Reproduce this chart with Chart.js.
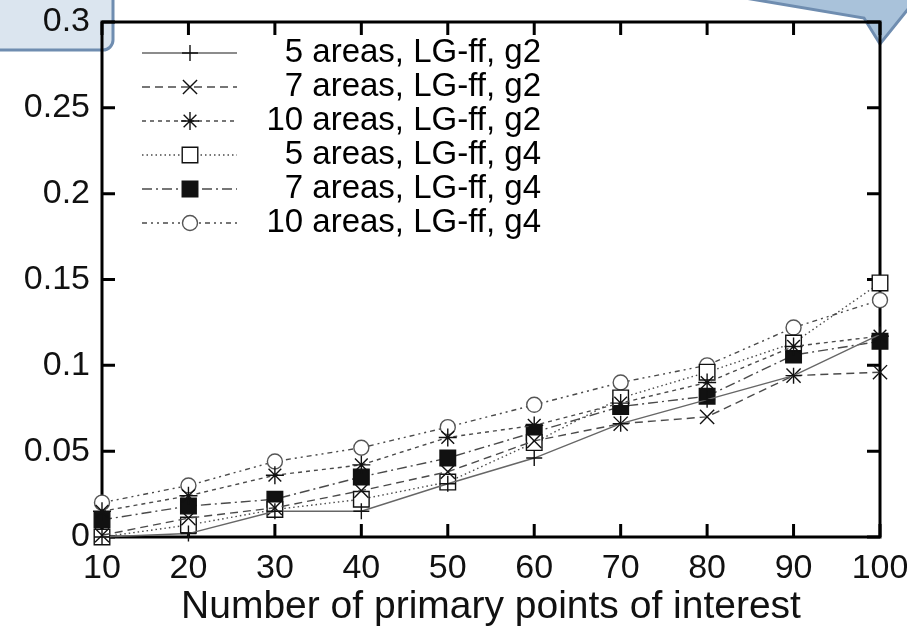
<!DOCTYPE html>
<html>
<head>
<meta charset="utf-8">
<script src="https://cdn.jsdelivr.net/npm/chart.js@4.4.0/dist/chart.umd.min.js"></script>
<style>
  html, body { margin: 0; padding: 0; background: #fff; }
  canvas { display: block; }
</style>
</head>
<body>
<canvas id="chart" width="907" height="637"></canvas>
<script>
// --- Data ---
const poiCounts = [10, 20, 30, 40, 50, 60, 70, 80, 90, 100];
const yTickValues = [0, 0.05, 0.1, 0.15, 0.2, 0.25, 0.3];
const yTickLabels = ['0', '0.05', '0.1', '0.15', '0.2', '0.25', '0.3'];
const seriesLabels = [
  '5 areas, LG-ff, g2', '7 areas, LG-ff, g2', '10 areas, LG-ff, g2',
  '5 areas, LG-ff, g4', '7 areas, LG-ff, g4', '10 areas, LG-ff, g4'
];
const areas5g2  = [0.000, 0.002, 0.015, 0.015, 0.031, 0.046, 0.066, 0.080, 0.094, 0.118];
const areas7g2  = [0.001, 0.011, 0.017, 0.027, 0.038, 0.056, 0.066, 0.070, 0.094, 0.096];
const areas10g2 = [0.015, 0.024, 0.036, 0.042, 0.058, 0.065, 0.078, 0.090, 0.111, 0.117];
const areas5g4  = [0.000, 0.007, 0.016, 0.022, 0.032, 0.055, 0.081, 0.096, 0.113, 0.148];
const areas7g4  = [0.010, 0.018, 0.022, 0.035, 0.046, 0.061, 0.076, 0.082, 0.106, 0.114];
const areas10g4 = [0.020, 0.030, 0.044, 0.052, 0.064, 0.077, 0.090, 0.100, 0.122, 0.138];

const FONT = '"Liberation Sans", Arial, Helvetica, sans-serif';
const LINE_COLOR = '#4a4a4a';

function makeSet(label, values, style) {
  return Object.assign({
    label: label,
    data: values.map((v, i) => ({ x: poiCounts[i], y: v })),
    borderColor: LINE_COLOR,
    borderWidth: 1.4,
    pointBorderColor: '#111',
    pointBackgroundColor: '#111',
    pointBorderWidth: 1.4,
    tension: 0,
    fill: false,
    clip: false
  }, style);
}

const datasets = [
  makeSet(seriesLabels[0], areas5g2,  { borderDash: [], pointStyle: 'cross', pointRadius: 8, borderColor: '#666' }),
  makeSet(seriesLabels[1], areas7g2,  { borderDash: [8, 5], pointStyle: 'crossRot', pointRadius: 10 }),
  makeSet(seriesLabels[2], areas10g2, { borderDash: [4, 4], pointStyle: 'star', pointRadius: 9 }),
  makeSet(seriesLabels[3], areas5g4,  { borderDash: [1.5, 3], pointStyle: 'rect', pointRadius: 11, pointBackgroundColor: '#fff' }),
  makeSet(seriesLabels[4], areas7g4,  { borderDash: [10, 4, 2, 4], pointStyle: 'rect', pointRadius: 11 }),
  makeSet(seriesLabels[5], areas10g4, { borderDash: [5, 4, 2, 4, 2, 4], pointStyle: 'circle', pointRadius: 7.5, pointBackgroundColor: '#fff', pointBorderColor: '#555' })
];

// --- Decorations behind the chart (the two blue callouts) ---
const overlayPlugin = {
  id: 'overlays',
  beforeDraw(chart) {
    const ctx = chart.ctx;
    ctx.save();
    // top-left rounded box around the 0.3 label
    ctx.fillStyle = '#dbe5ef';
    ctx.strokeStyle = '#6f8db0';
    ctx.lineWidth = 3;
    ctx.beginPath();
    ctx.roundRect(-10, -12, 123, 62, 10);
    ctx.fill();
    ctx.stroke();
    // top-right callout tail
    ctx.fillStyle = '#a9c2da';
    ctx.beginPath();
    ctx.moveTo(745, -2);
    ctx.lineTo(864, 18);
    ctx.lineTo(880, 44);
    ctx.lineTo(909, 8);
    ctx.lineTo(909, -2);
    ctx.closePath();
    ctx.fill();
    ctx.stroke();
    ctx.restore();
  }
};

// --- Frame and inward ticks, gnuplot style ---
const framePlugin = {
  id: 'frame',
  beforeDatasetsDraw(chart) {
    const { ctx, chartArea: a, scales } = chart;
    const len = 13;
    ctx.save();
    ctx.strokeStyle = '#000';
    ctx.lineWidth = 3;
    ctx.strokeRect(a.left, a.top, a.right - a.left, a.bottom - a.top);
    ctx.beginPath();
    poiCounts.forEach(v => {
      const x = scales.x.getPixelForValue(v);
      ctx.moveTo(x, a.bottom); ctx.lineTo(x, a.bottom - len);
      ctx.moveTo(x, a.top); ctx.lineTo(x, a.top + len);
    });
    yTickValues.forEach(v => {
      const y = scales.y.getPixelForValue(v);
      ctx.moveTo(a.left, y); ctx.lineTo(a.left + len, y);
      ctx.moveTo(a.right, y); ctx.lineTo(a.right - len, y);
    });
    ctx.stroke();
    ctx.restore();
  }
};

// --- Legend inside the plot, sample line on the left, text right aligned ---
const legendPlugin = {
  id: 'insideLegend',
  afterDraw(chart) {
    const ctx = chart.ctx;
    ctx.save();
    chart.data.datasets.forEach((ds, i) => {
      const y = 53 + i * 34;
      ctx.strokeStyle = ds.borderColor;
      ctx.lineWidth = ds.borderWidth;
      ctx.setLineDash(ds.borderDash || []);
      ctx.beginPath();
      ctx.moveTo(142, y);
      ctx.lineTo(237, y);
      ctx.stroke();
      ctx.setLineDash([]);
      ctx.strokeStyle = ds.pointBorderColor;
      ctx.fillStyle = ds.pointBackgroundColor;
      ctx.lineWidth = ds.pointBorderWidth;
      Chart.helpers.drawPoint(ctx, { pointStyle: ds.pointStyle, radius: ds.pointRadius, borderWidth: ds.pointBorderWidth, rotation: 0 }, 190, y);
      ctx.fillStyle = '#000';
      ctx.font = '33px ' + FONT;
      ctx.textAlign = 'right';
      ctx.textBaseline = 'middle';
      ctx.fillText(ds.label, 541, y);
    });
    ctx.restore();
  }
};

new Chart(document.getElementById('chart'), {
  type: 'line',
  data: { datasets: datasets },
  plugins: [overlayPlugin, framePlugin, legendPlugin],
  options: {
    responsive: false,
    animation: false,
    layout: { padding: { top: 22, right: 27, left: 0, bottom: 0 } },
    plugins: { legend: { display: false }, tooltip: { enabled: false } },
    scales: {
      x: {
        type: 'linear',
        min: 10,
        max: 100,
        afterFit: s => { s.height = 100; s.paddingLeft = 0; s.paddingRight = 0; },
        afterBuildTicks: s => { s.ticks = poiCounts.map(v => ({ value: v })); },
        grid: { display: false, drawTicks: false },
        border: { display: false },
        ticks: { color: '#111', padding: 11, maxRotation: 0, font: { family: FONT, size: 34 } },
        title: {
          display: true,
          text: 'Number of primary points of interest',
          color: '#111',
          padding: { top: 0, bottom: 6 },
          font: { family: FONT, size: 39 }
        }
      },
      y: {
        type: 'linear',
        min: 0,
        max: 0.3,
        afterFit: s => { s.width = 102; s.paddingTop = 0; s.paddingBottom = 0; },
        afterBuildTicks: s => { s.ticks = yTickValues.map(v => ({ value: v })); },
        grid: { display: false, drawTicks: false },
        border: { display: false },
        ticks: {
          color: '#111',
          padding: 12,
          font: { family: FONT, size: 34 },
          callback: (v, i) => yTickLabels[i]
        }
      }
    }
  }
});
</script>
</body>
</html>
